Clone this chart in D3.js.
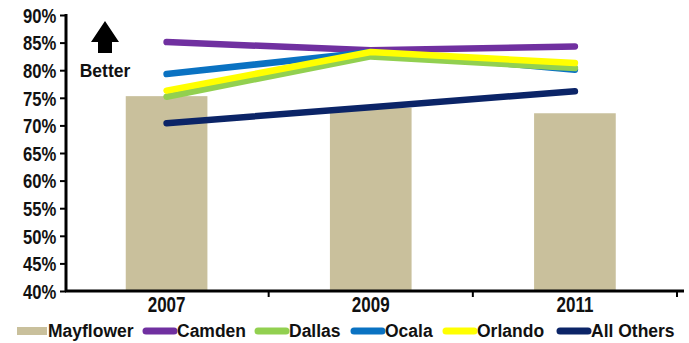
<!DOCTYPE html>
<html><head><meta charset="utf-8">
<script src="https://cdn.jsdelivr.net/npm/d3@7"></script>
<style>body{margin:0;background:#fff}svg{display:block}text{font-family:"Liberation Sans",Arial,sans-serif;font-weight:bold;fill:#111}</style>
</head><body><svg id="c" width="689" height="343"></svg>
<script>
const years = ["2007","2009","2011"];
const mayflower = [75.3, 73.2, 72.2];
const camden = [85.1, 83.6, 84.3];
const dallas = [75.2, 82.5, 80.4];
const ocala = [79.3, 83.3, 80.1];
const orlando = [76.3, 83.3, 81.3];
const allOthers = [70.4, 73.3, 76.2];
const yTicks = [40,45,50,55,60,65,70,75,80,85,90];
const lineSeries = [
  {name:"Camden", values:camden, color:"#7030a0"},
  {name:"Dallas", values:dallas, color:"#92d050"},
  {name:"Ocala", values:ocala, color:"#0a72c2"},
  {name:"Orlando", values:orlando, color:"#ffff00"},
  {name:"All Others", values:allOthers, color:"#0b2467"}
];
const drawOrder = ["Camden","Ocala","Dallas","Orlando","All Others"];

const svg = d3.select("#c");
const x = d3.scaleBand().domain(years).range([64.5,677]).paddingInner(0.6).paddingOuter(0.3);
const y = d3.scaleLinear().domain([40,90]).range([291,15]);

// bars
svg.append("g").selectAll("rect").data(years).join("rect")
  .attr("x", d=>x(d)).attr("width", x.bandwidth())
  .attr("y", (d,i)=>y(mayflower[i])).attr("height",(d,i)=>y(40)-y(mayflower[i]))
  .attr("fill","#c9c09c");

// lines
const line = d3.line().x((d,i)=>x(years[i])+x.bandwidth()/2).y(d=>y(d));
drawOrder.forEach(n=>{
  const s = lineSeries.find(t=>t.name===n);
  svg.append("path").attr("d", line(s.values)).attr("fill","none")
    .attr("stroke", s.color).attr("stroke-width",6.5)
    .attr("stroke-linecap","round").attr("stroke-linejoin","round");
});

// y axis
const ya = svg.append("g").attr("transform","translate(66,0)")
  .call(d3.axisLeft(y).tickValues(yTicks).tickFormat(d=>d+"%").tickSize(6).tickPadding(3));
ya.select(".domain").attr("stroke","#000").attr("stroke-width",3).attr("d","M0,14V292");
ya.selectAll(".tick line").attr("stroke","#000").attr("stroke-width",2);
ya.selectAll(".tick text").style("font-size","17px").attr("fill","#111")
  .attr("x",-10).attr("dy","0.36em").attr("transform","scale(0.98,1.2)");

// x axis
const xa = svg.append("g").attr("transform","translate(0,291)")
  .call(d3.axisBottom(x).tickSize(0).tickPadding(4.5));
xa.select(".domain").attr("stroke","#000").attr("stroke-width",3).attr("d","M65,0H684");
xa.selectAll(".tick text").style("font-size","17px").attr("fill","#111").attr("transform","scale(1,1.26)");
const step = x.step();
const bounds = years.map((d,i)=>x(d)+x.bandwidth()/2+step/2);
xa.selectAll("line.b").data(bounds).join("line").attr("class","b")
  .attr("x1",d=>d).attr("x2",d=>d).attr("y1",0).attr("y2",6)
  .attr("stroke","#000").attr("stroke-width",2);

// Better arrow
svg.append("path").attr("d","M105,21 L119,42 L112,42 L112,53 L98,53 L98,42 L91,42 Z").attr("fill","#000");
svg.append("text").attr("transform","translate(105,77) scale(1,1.1)").attr("text-anchor","middle").style("font-size","17.5px").text("Better");

// legend
const legendItems = [{name:"Mayflower", color:"#c9c09c", bar:true}].concat(lineSeries);
const legendX = [17,143,255,351,443,557];
const lg = svg.append("g");
legendItems.forEach((d,i)=>{
  const x0 = legendX[i];
  if (d.bar) {
    lg.append("rect").attr("x",x0).attr("y",327).attr("width",30).attr("height",8).attr("fill",d.color);
  } else {
    lg.append("line").attr("x1",x0+3).attr("x2",x0+31).attr("y1",331).attr("y2",331)
      .attr("stroke",d.color).attr("stroke-width",7).attr("stroke-linecap","round");
  }
  lg.append("text").attr("transform",`translate(${x0+(d.bar?31:34)},337) scale(1,1.05)`).style("font-size","17.5px").text(d.name);
});
</script></body></html>
